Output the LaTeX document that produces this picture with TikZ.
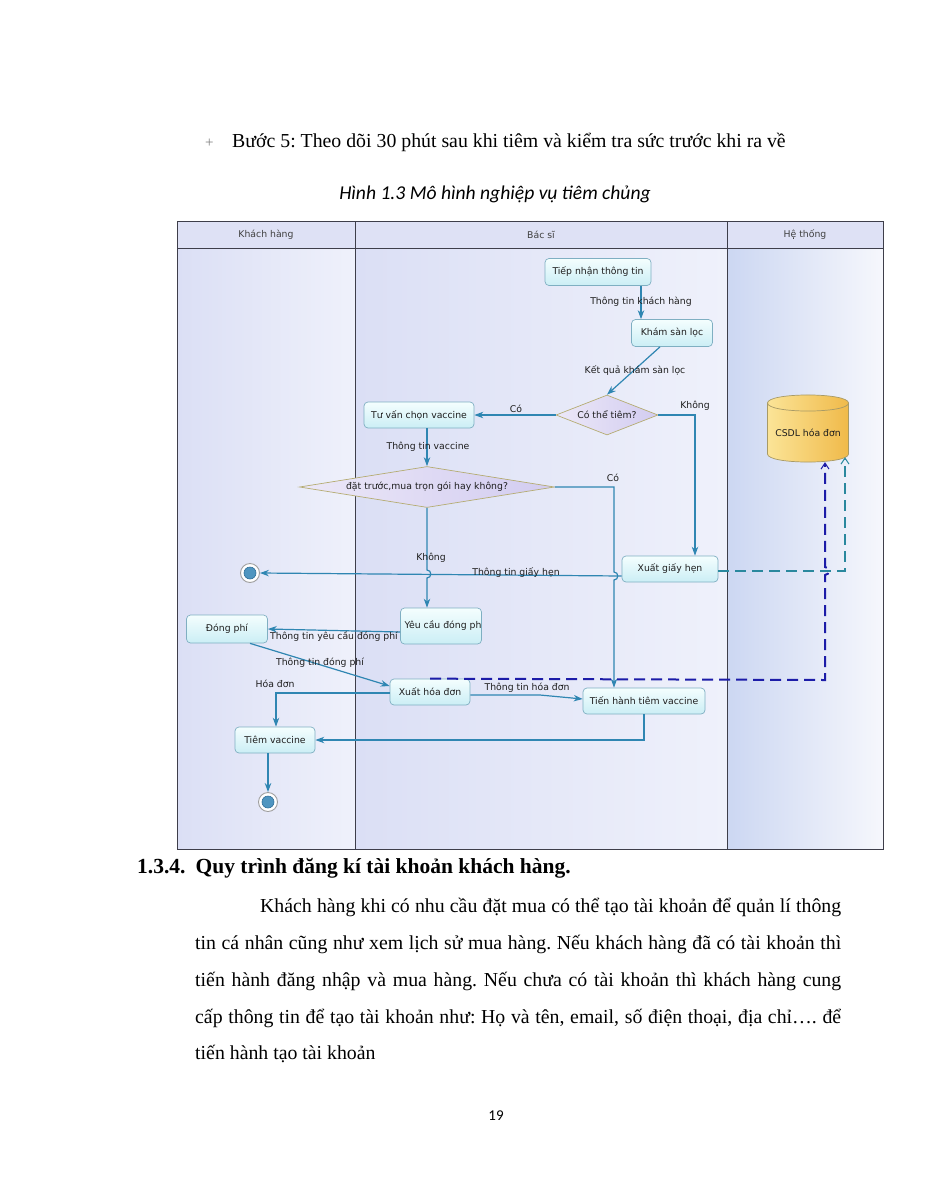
\documentclass[tikz,border=0pt]{standalone}
\usepackage{fontspec}
\setmainfont{Liberation Serif}
\newfontfamily\dgfont{DejaVu Sans}
\newfontfamily\cbfont{Carlito}
\usetikzlibrary{shapes.geometric,arrows.meta,calc}
\definecolor{flowc}{HTML}{2F86B2}
\definecolor{dashb}{HTML}{1C1CA8}
\definecolor{dasht}{HTML}{2A889E}
\definecolor{actbd}{HTML}{7FAFC2}
\definecolor{actT}{HTML}{F4FEFE}
\definecolor{actB}{HTML}{CBEEF5}
\definecolor{decbd}{HTML}{B5AC72}
\definecolor{decL}{HTML}{ECE8F8}
\definecolor{decR}{HTML}{D2CCF0}
\definecolor{txt}{HTML}{1E1E1E}
\definecolor{hdr}{HTML}{DEE1F5}
\definecolor{laneA}{HTML}{DBDFF5}
\definecolor{laneB}{HTML}{EFF1FB}
\definecolor{laneC}{HTML}{CCD7F2}
\definecolor{laneD}{HTML}{F6F7FC}
\definecolor{framec}{HTML}{3E3E4A}
\definecolor{cylA}{HTML}{FBE497}
\definecolor{cylB}{HTML}{F0BA4A}
\definecolor{cylbd}{HTML}{A89A66}
\definecolor{endfill}{HTML}{4F95C0}
\definecolor{endbd}{HTML}{2F6F9A}
\newcommand\dgf{\dgfont\fontsize{9.3}{11}\selectfont}
\newcommand\bodyf{\fontsize{19.8}{23}\selectfont}
\frenchspacing
\begin{document}
\frenchspacing
\begin{tikzpicture}[x=1pt,y=-1pt,
  act/.style={draw=actbd,line width=0.7pt,rounded corners=4pt,top color=actT,bottom color=actB,text=txt,font=\dgf,inner sep=0pt},
  dec/.style={diamond,draw=decbd,line width=0.7pt,left color=decL,right color=decR,text=txt,font=\dgf,inner sep=0pt},
  flow/.style={draw=flowc,line width=1.2pt,-{Stealth[length=9pt,width=6.5pt]}},
  lbl/.style={font=\dgf,text=txt,inner sep=0pt},
  endnode/.style={circle,draw=gray!75,line width=0.9pt,fill=white,minimum size=19pt,inner sep=0pt},
  lanehdr/.style={font=\dgf,text=txt!85},
  dsb/.style={draw=dashb,line width=2pt,dash pattern=on 11pt off 6pt,-{Straight Barb[length=6pt,width=8pt,line width=1pt]}},
  dst/.style={draw=dasht,line width=2pt,dash pattern=on 11pt off 6pt,-{Straight Barb[length=6pt,width=8pt,line width=1pt]}},
  body/.style={anchor=base west,inner sep=0pt,font=\bodyf,text=black}
]
\useasboundingbox[fill=white] (0,0) rectangle (927,1200);

% ---------- page text ----------
\node[anchor=base west,inner sep=0pt,text=gray,font=\fontsize{15}{17}\selectfont] (plus) at (205,147) {+};
\node[body] (b5) at (232,147) {Bước 5: Theo dõi 30 phút sau khi tiêm và kiểm tra sức trước khi ra về};
\node[anchor=base,inner sep=0pt,font=\cbfont\itshape\fontsize{19.6}{22}\selectfont] (cap) at (495,199) {Hình 1.3 Mô hình nghiệp vụ tiêm chủng};
\node[body,font=\fontsize{21.5}{24}\selectfont\bfseries] (h134) at (137,873) {1.3.4.\hspace{10pt}Quy trình đăng kí tài khoản khách hàng.};
\node[body] (p1) at (260,912) {\makebox[581pt][s]{Khách hàng khi có nhu cầu đặt mua có thể tạo tài khoản để quản lí thông}};
\node[body] (p2) at (195,949) {\makebox[646pt][s]{tin cá nhân cũng như xem lịch sử mua hàng. Nếu khách hàng đã có tài khoản thì}};
\node[body] (p3) at (195,986) {\makebox[646pt][s]{tiến hành đăng nhập và mua hàng. Nếu chưa có tài khoản thì khách hàng cung}};
\node[body] (p4) at (195,1023) {\makebox[646pt][s]{cấp thông tin để tạo tài khoản như: Họ và tên, email, số điện thoại, địa chỉ…. để}};
\node[body] (p5) at (195,1059) {tiến hành tạo tài khoản};
\node[anchor=base,inner sep=0pt,font=\cbfont\fontsize{15}{17}\selectfont] (pg) at (496,1120) {19};

% ---------- swimlanes ----------
\fill[left color=laneA,right color=laneB] (177,248) rectangle (355,849);
\fill[left color=laneA,right color=laneB] (355,248) rectangle (727,849);
\fill[left color=laneC,right color=laneD] (727,248) rectangle (883,849);
\fill[hdr] (177,221) rectangle (883,248);
\draw[framec,line width=0.9pt] (177,221) rectangle (883,849);
\draw[framec,line width=0.9pt] (177,248) -- (883,248);
\draw[framec,line width=0.9pt] (355,221) -- (355,849);
\draw[framec,line width=0.9pt] (727,221) -- (727,849);
\node[lanehdr] (hk) at (266,235) {Khách hàng};
\node[lanehdr] (hb) at (541,235) {Bác sĩ};
\node[lanehdr] (hh) at (805,235) {Hệ thống};

% ---------- database ----------
\path[left color=cylA,right color=cylB,draw=cylbd,line width=0.7pt]
  (767.5,403) -- (767.5,454) .. controls (767.5,464.7) and (848.5,464.7) .. (848.5,454)
  -- (848.5,403) .. controls (848.5,392.3) and (767.5,392.3) .. (767.5,403) -- cycle;
\draw[cylbd,line width=0.7pt] (767.5,403) .. controls (767.5,413.7) and (848.5,413.7) .. (848.5,403);
\node[font=\dgf,text=txt,inner sep=0pt,minimum width=81pt,minimum height=58pt] (db) at (808,433) {CSDL hóa đơn};

% ---------- activity nodes ----------
\node[act,minimum width=106pt,minimum height=27pt] (tn) at (598,272) {Tiếp nhận thông tin};
\node[act,minimum width=81pt,minimum height=27pt] (ksl) at (672,333) {Khám sàn lọc};
\node[dec,minimum width=102pt,minimum height=40pt,aspect=2.5] (cth) at (607,415) {Có thể tiêm?};
\node[act,minimum width=110pt,minimum height=26pt] (tv) at (419,415) {Tư vấn chọn vaccine};
\node[dec,minimum width=255pt,minimum height=41pt,aspect=6.2] (dt) at (427,487) {đặt trước,mua trọn gói hay không?};
\node[act,minimum width=96pt,minimum height=26pt] (xgh) at (670,569) {Xuất giấy hẹn};
\node[endnode] (f1) at (250,573) {};
\fill[endfill,draw=endbd,line width=0.6pt] (f1.center) circle (6pt);
\node[act,minimum width=81pt,minimum height=36pt,
  path picture={\node[lbl,anchor=west] at ([xshift=3pt]path picture bounding box.west) {Yêu cầu đóng phí};}] (yc) at (441,626) {};
\node[act,minimum width=81pt,minimum height=28pt] (dp) at (227,629) {Đóng phí};
\node[act,minimum width=80pt,minimum height=26pt] (xhd) at (430,692) {Xuất hóa đơn};
\node[act,minimum width=122pt,minimum height=26pt] (tht) at (644,701) {Tiến hành tiêm vaccine};
\node[act,minimum width=80pt,minimum height=26pt] (tvac) at (275,740) {Tiêm vaccine};
\node[endnode] (f2) at (268,802) {};
\fill[endfill,draw=endbd,line width=0.6pt] (f2.center) circle (6pt);

% ---------- control flows ----------
\draw[flow] (tn.south -| 641,0) -- (ksl.north -| 641,0);
\draw[flow] (ksl.south -| 660,0) -- (cth.north);
\draw[flow] (cth.west) -- (tv.east);
\draw[flow] (cth.east) -- (695,415) -- (xgh.north -| 695,0);
\draw[flow] (tv.south -| 427,0) -- (dt.north);
\draw[flow] (dt.east) -- (614,487) -- (614,572) to[out=0,in=0,looseness=1.6] (614,580) -- (tht.north -| 614,0);
\draw[flow] (dt.south) -- (427,570) to[out=0,in=0,looseness=1.6] (427,578) -- (yc.north -| 427,0);
\draw[flow] (xgh.west |- 0,576) -- (f1.east);
\draw[flow] (yc.west |- 0,632) -- (dp.east |- 0,629);
\draw[flow] (dp.south -| 250,0) -- (xhd.west |- 0,686);
\draw[flow] (xhd.west |- 0,693) -- (276,693) -- (tvac.north -| 276,0);
\draw[flow] (xhd.east |- 0,695) -- (540,695) -- (tht.west |- 0,699);
\draw[flow] (tht.south) -- (644,740) -- (tvac.east);
\draw[flow] (tvac.south -| 268,0) -- (f2.north);

% ---------- object flows ----------
\draw[dsb] (xhd.north) -- (825,680) -- (825,575) to[out=0,in=0,looseness=1.6] (825,567) -- (db.south -| 825,0);
\draw[dst] (xgh.east |- 0,571) -- (845,571) -- ([xshift=37pt,yshift=5pt]db.south);

% ---------- labels ----------
\node[lbl] (l1) at (641,302) {Thông tin khách hàng};
\node[lbl] (l2) at (635,371) {Kết quả khám sàn lọc};
\node[lbl] (l3) at (516,409) {Có};
\node[lbl] (l4) at (695,406) {Không};
\node[lbl] (l5) at (428,447) {Thông tin vaccine};
\node[lbl] (l6) at (613,478) {Có};
\node[lbl] (l7) at (431,558) {Không};
\node[lbl] (l8) at (516,573) {Thông tin giấy hẹn};
\node[lbl] (l9) at (334,637) {Thông tin yêu cầu đóng phí};
\node[lbl] (l10) at (320,663) {Thông tin đóng phí};
\node[lbl] (l11) at (275,684) {Hóa đơn};
\node[lbl] (l12) at (527,688) {Thông tin hóa đơn};
\end{tikzpicture}
\end{document}
